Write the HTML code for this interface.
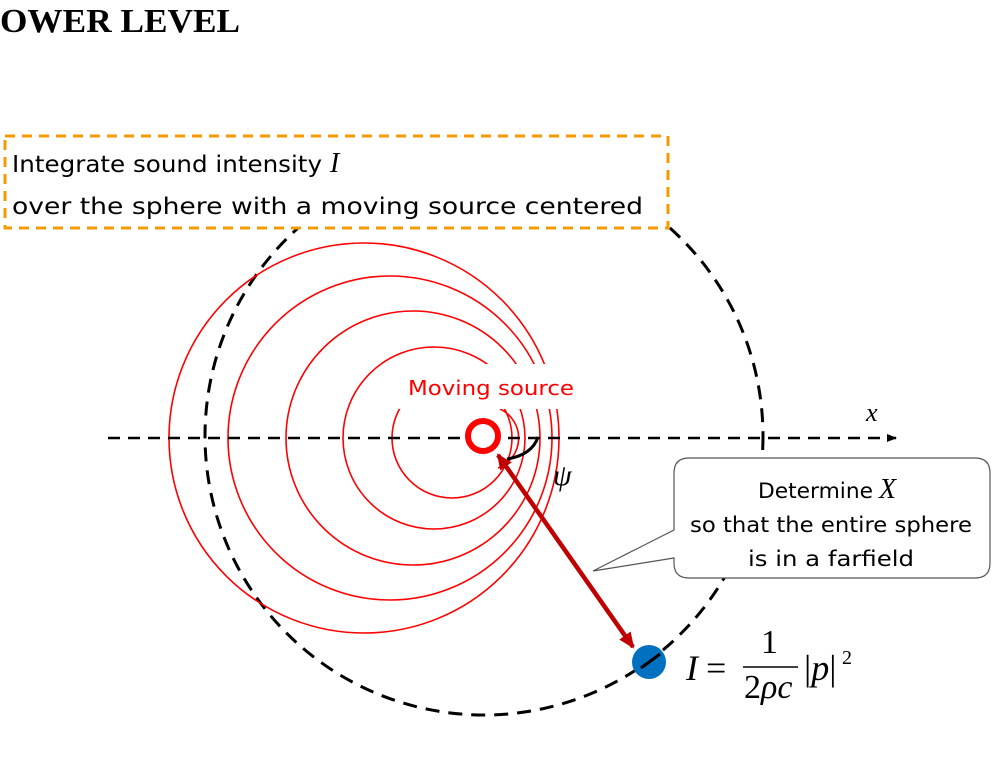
<!DOCTYPE html>
<html><head><meta charset="utf-8"><style>
html,body{margin:0;padding:0;background:#fff;width:1007px;height:757px;overflow:hidden}
svg{display:block}
.s{font-family:"DejaVu Sans","Liberation Sans",sans-serif}
.m{font-family:"Liberation Serif",serif;font-style:italic}
</style></head><body>
<svg width="1007" height="757" viewBox="0 0 1007 757" xmlns="http://www.w3.org/2000/svg">
<defs>
<marker id="ah" markerWidth="10" markerHeight="8" refX="9" refY="4" orient="auto" markerUnits="userSpaceOnUse"><path d="M0,0 L10,4 L0,8 Z" fill="#000"/></marker>
<marker id="rh" markerWidth="16" markerHeight="14" refX="14" refY="7" orient="auto-start-reverse" markerUnits="userSpaceOnUse"><path d="M0,0 L16,7 L0,14 Z" fill="#c00000"/></marker>
</defs>
<text x="0" y="32" font-family="Liberation Serif,serif" font-weight="bold" font-size="34" textLength="240" lengthAdjust="spacingAndGlyphs">OWER LEVEL</text>
<circle cx="484" cy="436" r="279" fill="none" stroke="#000" stroke-width="3" stroke-dasharray="14,9"/>
<g fill="none" stroke="#ff0000" stroke-width="1.6">
<circle cx="364" cy="438" r="195"/>
<circle cx="390" cy="438" r="162"/>
<circle cx="413" cy="438" r="127"/>
<circle cx="434" cy="438" r="91"/>
<circle cx="452" cy="438" r="60"/>
<path d="M500,409 A32,32 0 0 1 498,468"/>
</g>
<rect x="399" y="364" width="185" height="45" fill="#fff"/>
<line x1="108" y1="438" x2="896" y2="438" stroke="#000" stroke-width="2.5" stroke-dasharray="12,8" marker-end="url(#ah)"/>
<text x="866" y="421" class="m" font-size="26">x</text>
<text x="408" y="395" class="s" font-size="20" fill="#ff0000" textLength="166" lengthAdjust="spacingAndGlyphs">Moving source</text>
<circle cx="483" cy="436" r="15" fill="#fff" stroke="#ff0000" stroke-width="6"/>
<path d="M507,459 Q532,455 538,437" fill="none" stroke="#000" stroke-width="3"/>
<text x="553" y="485" class="m" font-size="30">ψ</text>
<line x1="498" y1="455" x2="633" y2="647" stroke="#c00000" stroke-width="4.5" marker-start="url(#rh)" marker-end="url(#rh)"/>
<circle cx="649" cy="662" r="17" fill="#0070c0"/>
<path d="M641,668 L660,654" stroke="#000" stroke-width="3"/>
<text x="686" y="680" class="m" font-size="36">I</text>
<text x="706" y="680" font-family="Liberation Serif,serif" font-size="36">=</text>
<text x="761" y="653" font-family="Liberation Serif,serif" font-size="34">1</text>
<line x1="743" y1="667" x2="798" y2="667" stroke="#000" stroke-width="1.5"/>
<text x="744" y="698" font-family="Liberation Serif,serif" font-size="34">2<tspan font-style="italic">ρc</tspan></text>
<text x="804" y="680" font-family="Liberation Serif,serif" font-size="36">|<tspan font-style="italic">p</tspan>|</text>
<text x="842" y="664" font-family="Liberation Serif,serif" font-size="20">2</text>
<path d="M689,458 H975 Q990,458 990,473 V563 Q990,578 975,578 H689 Q674,578 674,563 V558 L593,571 L674,530 V473 Q674,458 689,458 Z" fill="#fff" stroke="#555" stroke-width="1.2"/>
<text x="758" y="498" class="s" font-size="21" textLength="115" lengthAdjust="spacingAndGlyphs">Determine</text>
<text x="879" y="498" class="m" font-size="28">X</text>
<text x="690" y="532" class="s" font-size="21" textLength="282" lengthAdjust="spacingAndGlyphs">so that the entire sphere</text>
<text x="748" y="566" class="s" font-size="21" textLength="166" lengthAdjust="spacingAndGlyphs">is in a farfield</text>
<rect x="5" y="136" width="663" height="92" fill="#fff" stroke="#f59a00" stroke-width="3" stroke-dasharray="10,7"/>
<text x="12" y="172" class="s" font-size="23" textLength="310" lengthAdjust="spacingAndGlyphs">Integrate sound intensity</text>
<text x="330" y="172" class="m" font-size="28">I</text>
<text x="12" y="214" class="s" font-size="23" textLength="631" lengthAdjust="spacingAndGlyphs">over the sphere with a moving source centered</text>
</svg>
</body></html>
